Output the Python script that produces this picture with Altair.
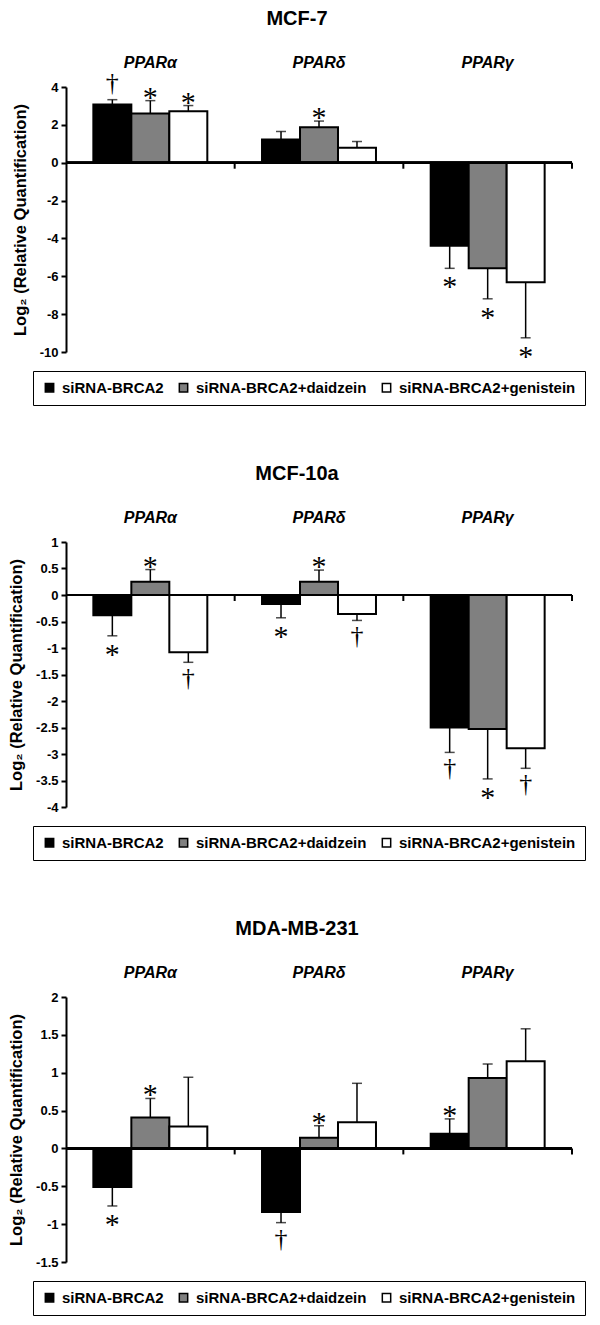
import altair as alt
import pandas as pd

genes = ["PPARα", "PPARδ", "PPARγ"]
treatments = ["siRNA-BRCA2", "siRNA-BRCA2+daidzein", "siRNA-BRCA2+genistein"]
fills = ["#000000", "#808080", "#ffffff"]

# values ordered gene by gene, three treatments each
mcf7_mean = [3.07, 2.60, 2.72, 1.23, 1.88, 0.79, -4.39, -5.58, -6.32]
mcf7_err = [0.26, 0.68, 0.30, 0.42, 0.32, 0.33, 1.19, 1.61, 2.93]
mcf7_sig = ["†", "*", "*", "", "*", "", "*", "*", "*"]
mcf7_ticks = [4, 2, 0, -2, -4, -6, -8, -10]

mcf10a_mean = [-0.38, 0.25, -1.08, -0.17, 0.25, -0.36, -2.50, -2.53, -2.89]
mcf10a_err = [0.39, 0.23, 0.19, 0.26, 0.22, 0.12, 0.47, 0.94, 0.38]
mcf10a_sig = ["*", "*", "†", "*", "*", "†", "†", "*", "†"]
mcf10a_ticks = [1, 0.5, 0, -0.5, -1, -1.5, -2, -2.5, -3, -3.5, -4]

mda_mean = [-0.51, 0.41, 0.29, -0.84, 0.14, 0.345, 0.195, 0.93, 1.15]
mda_err = [0.25, 0.25, 0.65, 0.14, 0.16, 0.515, 0.195, 0.185, 0.43]
mda_sig = ["*", "*", "", "†", "*", "", "*", "", ""]
mda_ticks = [2, 1.5, 1, 0.5, 0, -0.5, -1, -1.5]

W = 506
H = 265
SANS = "Liberation Sans"
SERIF = "Liberation Serif"
YTITLE = "Log₂ (Relative Quantification)"


def panel(title, mean, err, sig, ticks):
    rows = []
    for i, g in enumerate(genes):
        for j, t in enumerate(treatments):
            k = i * 3 + j
            m = mean[k]
            e = err[k]
            end = m + e if m >= 0 else m - e
            rows.append(dict(gene=g, treatment=t, mean=m, end=end, sig=sig[k],
                             side="up" if m >= 0 else "down"))
    df = pd.DataFrame(rows)
    lo, hi = min(ticks), max(ticks)
    tick_len = (hi - lo) * 6.0 / H

    yscale = alt.Scale(domain=[lo, hi], nice=False, zero=False)
    yaxis = alt.Axis(values=ticks, labelExpr="'' + datum.value",
                     labelOverlap=False, labelFlush=False,
                     title=YTITLE, grid=False,
                     domainColor="black", domainWidth=2, tickColor="black",
                     tickWidth=2, tickSize=5, labelFont=SANS,
                     labelFontSize=13, labelFontWeight="bold",
                     labelColor="black", labelPadding=3, titleFont=SANS,
                     titleFontSize=16.5, titleFontWeight="bold",
                     titleColor="black", titlePadding=11)
    xenc = alt.X("gene:N", sort=genes,
                 scale=alt.Scale(paddingInner=0, paddingOuter=0),
                 axis=alt.Axis(orient="top", title=None, ticks=False, domain=False,
                               labelAngle=0, labelFont=SANS, labelFontSize=16,
                               labelFontStyle="italic", labelFontWeight="bold",
                               labelColor="black", labelPadding=17))
    xoff = alt.XOffset("treatment:N", sort=treatments,
                       scale=alt.Scale(paddingOuter=0.72, paddingInner=0))
    base = alt.Chart(df).encode(x=xenc, xOffset=xoff)

    bars = base.mark_bar(stroke="black", strokeWidth=2).encode(
        y=alt.Y("mean:Q", scale=yscale, axis=yaxis),
        y2=alt.datum(0),
        fill=alt.Fill("treatment:N", sort=treatments,
                      scale=alt.Scale(domain=treatments, range=fills),
                      legend=alt.Legend(title=None, orient="none", legendX=-33,
                                        legendY=284, direction="horizontal",
                                        symbolType="square", symbolSize=70,
                                        symbolStrokeColor="black", symbolStrokeWidth=1.5,
                                        labelFont=SANS, labelFontSize=15,
                                        labelFontWeight="bold", labelColor="black",
                                        labelOffset=5, columnPadding=12, padding=9,
                                        strokeColor="black", labelLimit=400)),
    )
    zero = alt.Chart(df).mark_rule(color="black", strokeWidth=2).encode(
        y=alt.YDatum(0, axis=yaxis, scale=yscale), x=alt.value(0), x2=alt.value(W))
    bticks = alt.Chart(pd.DataFrame({"gene": genes})).mark_rule(
        color="black", strokeWidth=2).encode(
        x=alt.X("gene:N", sort=genes, bandPosition=1),
        y=alt.YDatum(0, axis=yaxis, scale=yscale), y2=alt.datum(-tick_len))
    ebar = base.mark_rule(color="black", strokeWidth=1.5).encode(
        y=alt.Y("mean:Q", scale=yscale, axis=yaxis), y2="end:Q")
    caps = base.mark_tick(color="black", thickness=1.5, size=10).encode(
        y=alt.Y("end:Q", scale=yscale, axis=yaxis))

    layers = [bars, zero, bticks, ebar, caps]
    styles = {("*", "up"): (30, 6), ("*", "down"): (30, 28),
              ("†", "up"): (26, -9), ("†", "down"): (26, 24)}
    for (g, s), (fs, dy) in styles.items():
        layers.append(
            base.transform_filter(
                (alt.datum.sig == g) & (alt.datum.side == s)
            ).mark_text(font=SERIF, fontSize=fs, color="black", dy=dy,
                        baseline="alphabetic").encode(
                y=alt.Y("end:Q", scale=yscale, axis=yaxis), text="sig:N"))

    return alt.layer(*layers).properties(
        width=W, height=H,
        title=alt.TitleParams(title, font=SANS, fontSize=20, fontWeight="bold",
                              color="black", anchor="middle", offset=25, dx=-22),
    )


p1 = panel("MCF-7", mcf7_mean, mcf7_err, mcf7_sig, mcf7_ticks)
p2 = panel("MCF-10a", mcf10a_mean, mcf10a_err, mcf10a_sig, mcf10a_ticks)
p3 = panel("MDA-MB-231", mda_mean, mda_err, mda_sig, mda_ticks)

chart = alt.vconcat(p1, p2, p3, spacing=58,
                    padding={"top": 1, "left": 0, "right": 0, "bottom": 0}).resolve_scale(
    x="independent", y="independent", fill="independent", xOffset="independent"
).resolve_legend(fill="independent").configure(
    background="white", view=alt.ViewConfig(stroke="transparent", strokeWidth=0))

chart.save("out.html", embed_options={"renderer": "svg", "actions": False})
